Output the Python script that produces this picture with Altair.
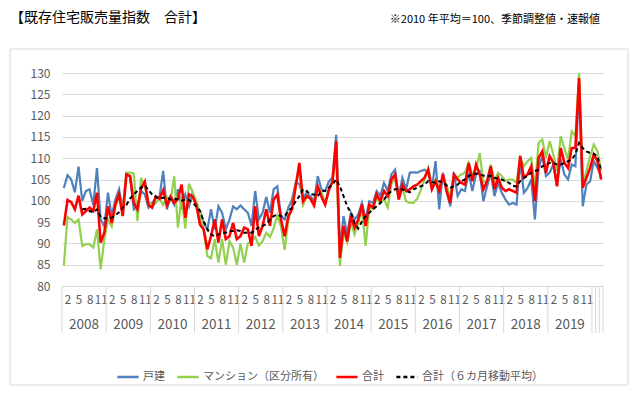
import altair as alt
import pandas as pd

years = list(range(2008, 2020))
series_names = ["戸建", "マンション（区分所有）", "合計", "合計（６カ月移動平均）"]
colors = ["#4F81BD", "#92D050", "#FF0000", "#000000"]
dashes = [[1, 0], [1, 0], [1, 0], [4, 3]]
widths = [2.2, 2.2, 2.6, 2.0]

# monthly values, 2008-01 .. 2020-03
kodate = [
    103, 106, 105, 102, 108, 100, 102.3, 102.7, 99, 107.7, 95.6, 94,
    101.9, 96.4, 100.3, 102.7, 98, 106.2, 105.8, 98, 98.7, 102.3, 101.5, 98.4,
    99.5, 100.7, 101, 107, 98, 100.7, 99.1, 102.7, 98.7, 101.5, 98.7, 101.9,
    98.7, 97.6, 94.8, 93.3, 98, 93.3, 98.7, 97.2, 93.3, 95.6, 98.7, 98,
    98.9, 98, 97.2, 94.1, 102.3, 95.6, 97.2, 100.9, 97.2, 102.7, 103.4, 96.4,
    95.6, 98.4, 100.3, 104.2, 104, 100.7, 101.9, 101, 100, 105.8, 102.7, 102.3,
    104.5, 105.5, 115.5, 88.5, 96.4, 92.1, 97.2, 95.6, 96.8, 99.5, 95.6, 99.9,
    99.5, 102.3, 101.2, 104.2, 102.3, 106.2, 107.3, 101.1, 105.4, 102.7, 106.6, 106.7,
    106.6, 107, 107.3, 106.6, 103, 109.3, 98, 106.6, 102.3, 98.7, 106.6, 101.1,
    102.7, 102.3, 106.6, 102.3, 106.2, 106.9, 99.9, 103.4, 106.6, 101.1, 104.2, 101.9,
    100.3, 99.1, 99.5, 99.1, 109.3, 101.9, 103, 105, 95.6, 107.7, 110.5, 105.8,
    106.6, 108.5, 103.8, 109.7, 106.2, 105, 108.5, 108.1, 127, 98.7, 103.8, 104.6,
    109.3, 107.7, 105.8,
]
mansion = [
    84.8, 96.2, 95.6, 94.8, 95.6, 89.4, 89.8, 89.8, 89, 93.3, 83.9, 91,
    95.6, 94, 98.7, 101.1, 98, 106.6, 106.6, 106.4, 95.2, 105.4, 103.4, 99.9,
    98.7, 99.5, 100.5, 99, 101, 100, 105.8, 93.7, 101, 93.5, 104, 102,
    100, 97, 93, 87, 86.5, 91, 85.5, 91, 85, 90.5, 89, 85,
    90, 85.5, 90, 90.5, 91.5, 89.5, 90.5, 92.5, 91.5, 93.5, 96.5, 94,
    88.5, 95.5, 98.5, 104, 107, 99, 101, 100.5, 99, 103, 102, 99.5,
    103, 104.5, 111, 84.7, 92.5, 90.2, 94.8, 92.1, 94.8, 98, 89.4, 98.4,
    98, 100.7, 99.5, 100.3, 98.4, 103.8, 105.4, 100.3, 103, 99.9, 99.5, 99.5,
    100.5, 102.5, 105, 107.7, 103.8, 105, 102.7, 105.8, 103.5, 101.1, 106, 105.5,
    106.2, 106.6, 108.9, 106.2, 107.3, 111.2, 104.5, 104.5, 108.5, 104.6, 106.6, 105.8,
    104.6, 105, 105, 104.2, 110.1, 108.1, 109.3, 110.1, 103, 113.6, 114.4, 110.1,
    114, 110.9, 107, 115.2, 112.4, 109.7, 116.3, 115.2, 130, 103.8, 107, 110.5,
    113.2, 111.6, 107,
]
total = [
    94.2, 100.2, 99.7, 98, 101.2, 96.8, 97.6, 98.4, 97.6, 101.9, 90.2, 92.5,
    98.7, 94.8, 99.1, 101.5, 96.4, 106.2, 105.8, 99.5, 98, 103, 104.5, 99,
    98.4, 101, 100.5, 102.5, 99, 101, 99.5, 100.5, 103.8, 96, 101.5, 101,
    99, 94.4, 93.3, 88.6, 91.7, 95.6, 90.2, 95.6, 91, 91.7, 94.8, 91,
    91.7, 93.7, 93.3, 89.4, 98.7, 91.7, 94.1, 98, 94.1, 100.3, 101.5, 95.6,
    91.7, 96.4, 98, 103.4, 108.9, 99.9, 101.1, 100.5, 98.9, 103.4, 101, 99.1,
    102.5, 104.5, 114, 86.6, 94.1, 90.5, 96.4, 93.7, 95.6, 99.1, 94.1, 99.1,
    98.4, 101.5, 99.9, 102.3, 101.1, 105, 106.2, 100.3, 103.8, 102.3, 102.7, 103.4,
    103.8, 104.6, 105.4, 107.3, 102.7, 104.6, 102.3, 106.2, 102.3, 99.5, 106.2, 105,
    104.2, 103.8, 108.9, 104.6, 108.5, 106.2, 102.7, 104.6, 108.1, 102.7, 105.4, 103.1,
    102.3, 102.7, 102.3, 101.9, 110.5, 105.4, 106.2, 108.1, 99.9, 110.1, 111.6, 106.6,
    110.5, 108.9, 103.4, 112.4, 108.9, 107.7, 112.4, 112.4, 128.8, 103.1, 105.4, 107.7,
    110.9, 109.3, 105,
]
ma6 = [None] * 5 + [
    98, 98.1, 97.6, 97.3, 98, 96.2, 95.9,
    95.9, 96, 96.6, 97.3, 98.4, 99, 100.5, 101.5, 102.3, 103.1, 103.6, 102.5,
    101.5, 100.9, 100.5, 100.7, 100.7, 100.3, 100.5, 100.3, 100, 100.3, 100.2, 99.5,
    98.7, 97.6, 95.2, 93.3, 92.1, 91.7, 92.1, 92.5, 92.5, 92.9, 92.9, 93.1,
    92.9, 92.5, 92.5, 92.5, 93.3, 93.7, 94.1, 94.5, 95.6, 96.4, 96.8, 96.4,
    96.4, 97.6, 98.4, 99.9, 101.1, 102.7, 102.3, 101.5, 101.5, 101.1, 102.3, 102.3,
    103.1, 103.8, 105, 103.4, 101.1, 98.7, 97.2, 94.8, 93.5, 95.2, 96.4, 97.2,
    98, 98.7, 99.5, 100.3, 101.5, 102.3, 102.7, 102.7, 102.7, 102.3, 102, 102.7,
    103.1, 103.4, 103.8, 104.6, 104.4, 104.2, 104.6, 104.4, 103.6, 103.1, 103.4, 103.8,
    104.6, 105, 105.8, 106.2, 106.4, 106.2, 105.9, 105.8, 105.9, 105.4, 105.2, 105,
    104.6, 104.2, 103.5, 103.4, 104.6, 105.4, 105.8, 106.6, 107, 107.3, 108.1, 108.5,
    108.9, 108.9, 108.5, 108.5, 108.9, 109.3, 109.7, 110.9, 113.6, 112.4, 111.6, 111.2,
    111, 110.5, 107,
]
y_ticks = [80, 85, 90, 95, 100, 105, 110, 115, 120, 125, 130]

n = len(total)
assert len(kodate) == n and len(mansion) == n and len(ma6) == n

rows = []
for name, arr in zip(series_names, [kodate, mansion, total, ma6]):
    for i, v in enumerate(arr):
        if v is not None:
            rows.append({"t": i, "series": name, "value": v})
df = pd.DataFrame(rows)

FONT = "Noto Sans CJK JP"
GRAY = "#595959"
GRID = "#d9d9d9"
W, H = 541, 213

x_scale = alt.Scale(domain=[-0.5, n - 0.5], nice=False, zero=False)
y_scale = alt.Scale(domain=[y_ticks[0], y_ticks[-1]], nice=False, zero=False)
month_ticks = [i for i in range(12 * len(years)) if i % 12 in (1, 4, 7, 10)]

x_axis = alt.Axis(values=month_ticks, labelExpr="(datum.value % 12) + 1", grid=False,
                  ticks=False, labelPadding=8, labelOverlap=False, labelFlush=False,
                  labelFontSize=11.5, labelColor=GRAY, labelFont=FONT, domainColor=GRID)
x_enc = alt.X("t:Q", scale=x_scale, title=None, axis=x_axis)

legend = alt.Legend(
    title=None, orient="none", legendX=54, legendY=292, direction="horizontal",
    symbolType="stroke", symbolSize=450, symbolStrokeWidth=2.5,
    labelFont=FONT, labelFontSize=11, labelColor=GRAY, columnPadding=7, labelOffset=3,
)
color = alt.Color("series:N", scale=alt.Scale(domain=series_names, range=colors), legend=legend)
dash = alt.StrokeDash("series:N", scale=alt.Scale(domain=series_names, range=dashes), legend=legend)

base = alt.Chart(df).encode(
    x=x_enc,
    y=alt.Y("value:Q", scale=y_scale, title=None,
            axis=alt.Axis(values=y_ticks, grid=True, gridColor=GRID, ticks=False, domain=False,
                          labelPadding=12, labelFontSize=12, labelColor=GRAY, labelFont=FONT)),
    color=color,
    strokeDash=dash,
)
lines = [
    base.transform_filter(alt.datum.series == s).mark_line(strokeWidth=w)
    for s, w in zip(series_names, widths)
]

year_df = pd.DataFrame({"year": [str(y) for y in years],
                        "t": [k * 12 + 5.5 for k in range(len(years))]})
year_text = alt.Chart(year_df).mark_text(fontSize=13.5, color=GRAY, font=FONT, baseline="middle").encode(
    x=x_enc, y=alt.value(H + 39), text="year:N")

bounds = [k * 12 - 0.5 for k in range(len(years) + 1)] + [m + 0.5 for m in range(12 * len(years), n)]
sep = alt.Chart(pd.DataFrame({"t": bounds})).mark_rule(color=GRID, strokeWidth=1).encode(
    x=x_enc, y=alt.value(H), y2=alt.value(H + 47))

one = pd.DataFrame({"a": [0]})
frame = alt.Chart(one).mark_rect(fillOpacity=0, stroke=GRID, strokeWidth=1).encode(
    x=alt.value(-52), x2=alt.value(566), y=alt.value(-24), y2=alt.value(312))
title = alt.Chart(one).mark_text(align="left", baseline="middle", fontSize=14, font=FONT,
                                 color="#000000").encode(
    x=alt.value(-52), y=alt.value(-55), text=alt.value("【既存住宅販売量指数　合計】"))
note = alt.Chart(one).mark_text(align="right", baseline="middle", fontSize=11, font=FONT,
                                color="#000000").encode(
    x=alt.value(538), y=alt.value(-53), text=alt.value("※2010 年平均＝100、季節調整値・速報値"))

chart = alt.layer(*lines, sep, year_text, frame, title, note).properties(
    width=W, height=H,
    autosize=alt.AutoSizeParams(type="none"),
    padding={"left": 54, "top": 65, "right": 29, "bottom": 102},
    background="white",
).configure_view(stroke=None)

chart.save("out.html", embed_options={"renderer": "svg", "actions": False})
